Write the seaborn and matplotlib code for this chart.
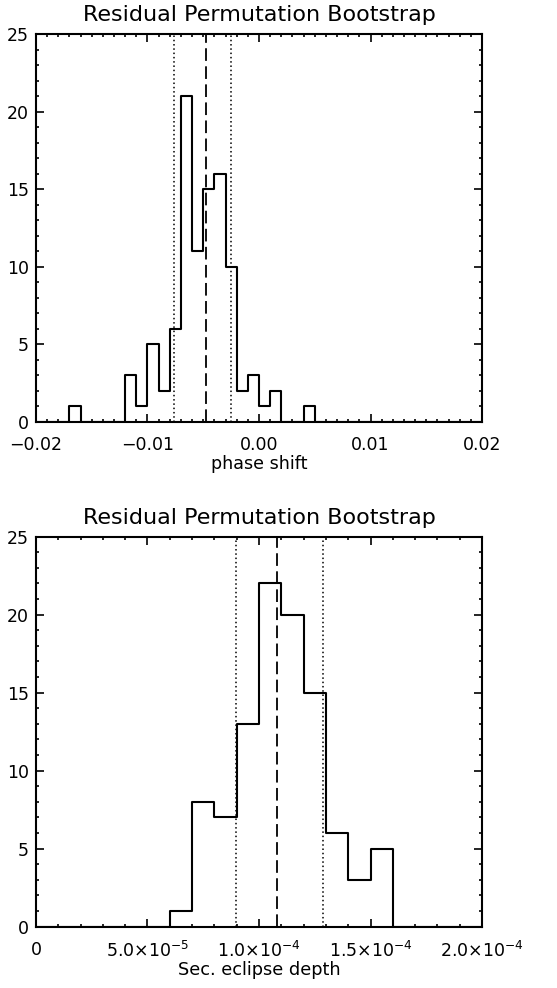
import numpy as np
import pandas as pd
import matplotlib
matplotlib.use("Agg")
import matplotlib.pyplot as plt
from matplotlib.ticker import MultipleLocator, FuncFormatter
import seaborn as sns

# Phase-shift histogram: 0.001-wide bins starting at -0.017
phase_bin_start = -0.017
phase_bin_width = 0.001
phase_counts = [1, 0, 0, 0, 0, 3, 1, 5, 2, 6, 21, 11, 15, 16, 10, 2, 3, 1, 2, 0, 0, 1]
phase_median = -0.00478
phase_lo, phase_hi = -0.00762, -0.00254

# Secondary-eclipse-depth histogram: 1e-5-wide bins starting at 6e-5
depth_bin_start = 6.0e-5
depth_bin_width = 1.0e-5
depth_counts = [1, 8, 7, 13, 22, 20, 15, 6, 3, 5]
depth_median = 1.0794e-4
depth_lo, depth_hi = 8.955e-5, 1.2885e-4

title_text = "Residual Permutation Bootstrap"
phase_xlabel = "phase shift"
depth_xlabel = "Sec. eclipse depth"
depth_tick_labels = {0.0: "0", 5e-5: r"5.0$\times$10$^{-5}$", 1e-4: r"1.0$\times$10$^{-4}$",
                     1.5e-4: r"1.5$\times$10$^{-4}$", 2e-4: r"2.0$\times$10$^{-4}$"}

sns.set_style("ticks")
plt.rcParams["font.family"] = ["DejaVu Sans"]
plt.rcParams.update({"text.color": "black", "axes.labelcolor": "black",
                     "xtick.color": "black", "ytick.color": "black",
                     "axes.edgecolor": "black"})

FS = 12.5
LW_AX = 1.5


def padded_hist(start, width, counts, lo, hi):
    """Bin edges/centres/weights extended with empty bins to cover [lo, hi]."""
    n_left = int(round((start - lo) / width))
    n_right = int(round((hi - (start + width * len(counts))) / width))
    w = [0] * n_left + list(counts) + [0] * n_right
    edges = lo + width * np.arange(len(w) + 1)
    centres = 0.5 * (edges[:-1] + edges[1:])
    return pd.DataFrame({"x": centres, "w": w}), [float(e) for e in edges]


def style_axes(ax, major, minor):
    ax.set_ylim(0, 25)
    ax.xaxis.set_major_locator(MultipleLocator(major))
    ax.xaxis.set_minor_locator(MultipleLocator(minor))
    ax.yaxis.set_major_locator(MultipleLocator(5))
    ax.yaxis.set_minor_locator(MultipleLocator(1))
    ax.tick_params(which="both", direction="in", top=True, right=True,
                   width=1.2, colors="black", labelsize=FS)
    ax.tick_params(which="major", length=5.8)
    ax.tick_params(which="minor", length=2.5)
    ax.tick_params(axis="x", pad=10)
    ax.tick_params(axis="y", pad=5)
    for s in ax.spines.values():
        s.set_linewidth(LW_AX)
        s.set_color("black")
        s.set_visible(True)
    ax.set_ylabel("")
    ax.set_title(title_text, fontsize=16, pad=9, color="black")


fig = plt.figure(figsize=(5.57, 9.88), dpi=100)
ax1 = fig.add_axes([0.0646, 0.5729, 0.8008, 0.3927])
ax2 = fig.add_axes([0.0646, 0.0621, 0.8008, 0.3947])

# Top panel: phase shift
df1, e1 = padded_hist(phase_bin_start, phase_bin_width, phase_counts, -0.02, 0.02)
sns.histplot(data=df1, x="x", weights="w", bins=e1, element="step", fill=False,
             color="black", linewidth=1.5, ax=ax1)
ax1.axvline(phase_median, color="black", lw=1.3, ls=(0, (7, 3)))
for v in (phase_lo, phase_hi):
    ax1.axvline(v, color="black", lw=1.1, ls=(0, (1, 1.8)))
ax1.set_xlim(-0.02, 0.02)
style_axes(ax1, 0.01, 0.001)
ax1.xaxis.set_major_formatter(FuncFormatter(lambda v, p: f"{v:.2f}".replace("-", "\u2212")))
ax1.set_xlabel(phase_xlabel, fontsize=12.6, labelpad=0.5)

# Bottom panel: secondary eclipse depth
df2, e2 = padded_hist(depth_bin_start, depth_bin_width, depth_counts, 0.0, 2e-4)
sns.histplot(data=df2, x="x", weights="w", bins=e2, element="step", fill=False,
             color="black", linewidth=1.5, ax=ax2)
ax2.axvline(depth_median, color="black", lw=1.3, ls=(0, (7, 3)))
for v in (depth_lo, depth_hi):
    ax2.axvline(v, color="black", lw=1.1, ls=(0, (1, 1.8)))
ax2.set_xlim(0, 2e-4)
style_axes(ax2, 5e-5, 1e-5)
ax2.set_xticks(list(depth_tick_labels.keys()))
ax2.set_xticklabels(list(depth_tick_labels.values()))
ax2.set_xlabel(depth_xlabel, fontsize=12.8, labelpad=0)

for ax in (ax1, ax2):
    ax.set_ylabel("")
    ax.yaxis.set_major_formatter(FuncFormatter(lambda v, p: f"{int(round(v))}"))

fig.savefig("out.png", dpi=100)
